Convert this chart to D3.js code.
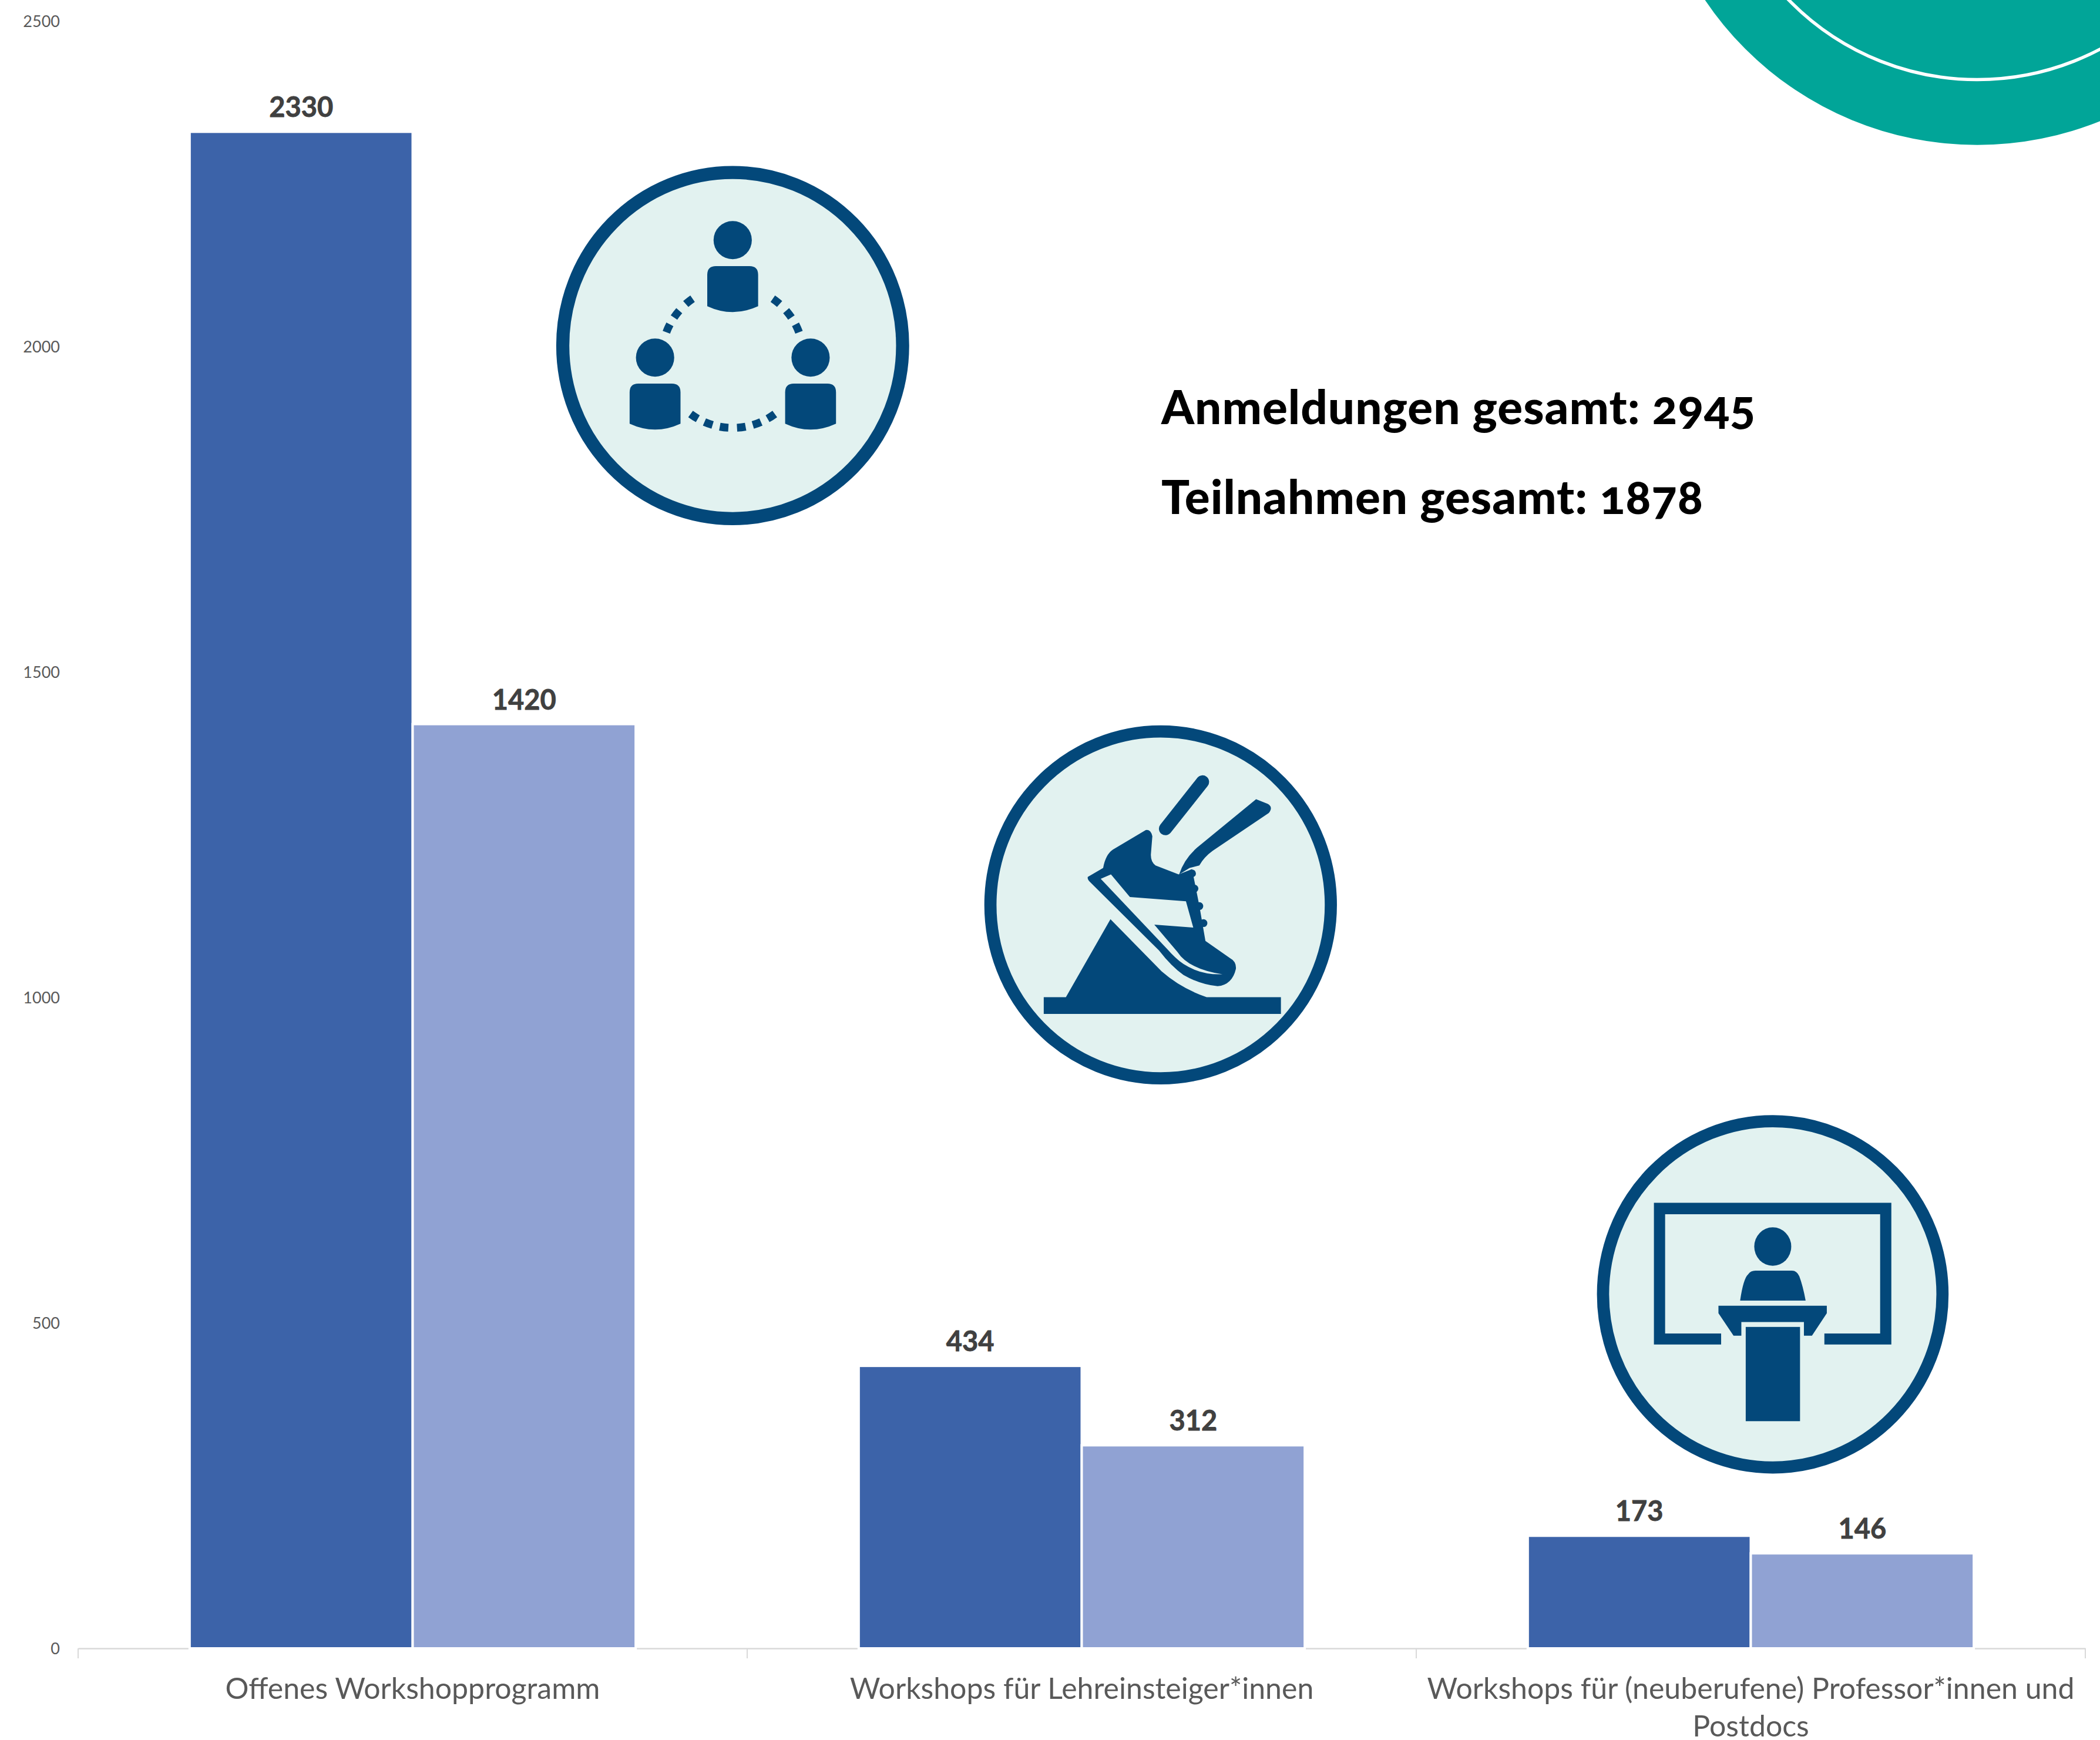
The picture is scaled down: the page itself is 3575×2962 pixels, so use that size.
<!DOCTYPE html>
<html>
<head>
<meta charset="utf-8">
<script src="https://cdn.jsdelivr.net/npm/d3@7"></script>
<style>
  html, body { margin: 0; padding: 0; background: #fff; }
  svg { display: block; }
  text { font-family: Lato, "Noto Sans", sans-serif; }
</style>
</head>
<body>
<div id="chart"></div>
<script>
var categories = ["Offenes Workshopprogramm", "Workshops für Lehreinsteiger*innen", "Workshops für (neuberufene) Professor*innen und Postdocs"];
var seriesNames = ["Anmeldungen", "Teilnahmen"];
var anmeldungen = [2330, 434, 173];
var teilnahmen = [1420, 312, 146];
var yTicks = [0, 500, 1000, 1500, 2000, 2500];
var totals = ["Anmeldungen gesamt: 2945", "Teilnahmen gesamt: 1878"];

var width = 3575,
    height = 2962;

var margin = { top: 36, right: 25, bottom: 156, left: 133 };

var darkBlue = "#3c63a9",
    lightBlue = "#90a2d3",
    iconDark = "#03487a",
    iconLight = "#e2f2f0",
    teal = "#01a598";

var svg = d3.select("#chart").append("svg")
    .attr("width", width)
    .attr("height", height)
    .style("background", "#fff");

// teal corner
svg.append("circle")
    .attr("cx", 3366).attr("cy", -312).attr("r", 558.7)
    .attr("fill", teal);
svg.append("circle")
    .attr("cx", 3366).attr("cy", -312).attr("r", 447.5)
    .attr("fill", "none")
    .attr("stroke", "#fff")
    .attr("stroke-width", 5.5);

var x = d3.scaleBand()
    .domain(categories)
    .range([margin.left, width - margin.right]);

var xSeries = d3.scaleBand()
    .domain(seriesNames)
    .range([0, x.bandwidth()])
    .paddingOuter(0.5)
    .paddingInner(0);

var y = d3.scaleLinear()
    .domain([0, 2500])
    .range([height - margin.bottom, margin.top]);

var rows = categories.map((c, i) => ({ category: c, values: [anmeldungen[i], teilnahmen[i]] }));

var xAxis = d3.axisBottom(x).tickSize(0).tickSizeOuter(0);
var yAxis = d3.axisLeft(y).tickValues(yTicks).tickSize(0).tickFormat(d3.format("d"));

svg.append("g")
    .attr("class", "y axis")
    .attr("transform", "translate(" + (margin.left - 31) + ",0)")
    .call(yAxis)
    .call(g => g.select(".domain").remove())
    .call(g => g.selectAll("text")
      .attr("x", 0)
      .attr("dy", "0.35em")
      .attr("font-size", 27)
      .attr("font-family", "Lato")
      .attr("fill", "#595959"));

var xAxisG = svg.append("g")
    .attr("class", "x axis")
    .attr("transform", "translate(0," + (height - margin.bottom) + ")")
    .call(xAxis)
    .call(g => g.select(".domain").attr("stroke", "#d9d9d9").attr("stroke-width", 2.5))
    .call(g => g.selectAll("text")
      .attr("y", 86)
      .attr("dy", 0)
      .attr("font-size", 50)
      .attr("font-family", "Lato")
      .attr("fill", "#595959")
      .call(wrap, x.bandwidth() - 10));

// ticks sit between the categories, not under them
xAxisG.selectAll("line.sep")
    .data(d3.range(categories.length + 1))
    .join("line")
      .attr("class", "sep")
      .attr("x1", d => margin.left + d * x.step())
      .attr("x2", d => margin.left + d * x.step())
      .attr("y1", 0)
      .attr("y2", 17)
      .attr("stroke", "#d9d9d9")
      .attr("stroke-width", 2);

var groups = svg.append("g")
    .selectAll("g")
    .data(rows)
    .join("g")
      .attr("transform", d => "translate(" + x(d.category) + ",0)");

groups.selectAll("rect")
    .data(d => d.values)
    .join("rect")
      .attr("x", (d, i) => xSeries(seriesNames[i]))
      .attr("y", d => y(d))
      .attr("width", xSeries.bandwidth())
      .attr("height", d => y(0) - y(d))
      .attr("fill", (d, i) => i == 0 ? darkBlue : lightBlue)
      .attr("stroke", "#fff")
      .attr("stroke-width", 4);

groups.selectAll("text")
    .data(d => d.values)
    .join("text")
      .attr("x", (d, i) => xSeries(seriesNames[i]) + xSeries.bandwidth() / 2)
      .attr("y", d => y(d) - 25)
      .attr("text-anchor", "middle")
      .attr("font-size", 47)
      .attr("font-weight", 700)
      .attr("fill", "#404040")
      .attr("stroke", "#404040")
      .attr("stroke-width", 0.8)
      .text(d => d);

svg.selectAll("text.total")
    .data(totals)
    .join("text")
      .attr("class", "total")
      .attr("x", 1977)
      .attr("y", (d, i) => 722 + i * 153)
      .attr("font-size", 80)
      .attr("font-weight", 900)
      .attr("letter-spacing", 1)
      .attr("fill", "#000")
      .style("font-variant-numeric", "oldstyle-nums")
      .text(d => d);

// icons, traced in the coordinates of a 1568 wide crop
function icon(cropX, cropY, cropW) {
  return svg.append("g")
    .attr("transform", "translate(" + cropX + "," + cropY + ") scale(" + (cropW / 1568) + ")")
    .attr("fill", iconDark);
}

function ring(g, cx, cy, rx, ry) {
  g.append("ellipse")
    .attr("cx", cx).attr("cy", cy).attr("rx", rx).attr("ry", ry)
    .attr("fill", iconLight)
    .attr("stroke", iconDark)
    .attr("stroke-width", 50);
}

// people in a circle
var people = icon(900, 240, 700);
ring(people, 778, 780, 648, 660);
[[0, 0], [-296, 448], [297, 448]].forEach(o => {
  var p = people.append("g").attr("transform", "translate(" + o[0] + "," + o[1] + ")");
  p.append("circle").attr("cx", 778).attr("cy", 378).attr("r", 73);
  p.append("path").attr("d", "M681 510Q681 477 714 477H842Q875 477 875 510V630Q778 675 681 630Z");
});
var dashArc = d3.arc().innerRadius(255).outerRadius(285);
[-38, -52.5, -66, 38, 52.5, 66, 147, 160, 173, 187, 200, 213].forEach(a => {
  people.append("path")
    .attr("transform", "translate(778,824)")
    .attr("d", dashArc({ startAngle: (a - 3.5) * Math.PI / 180, endAngle: (a + 3.5) * Math.PI / 180 }));
});

// shoe on a ramp
var shoe = icon(1650, 1210, 650);
ring(shoe, 786, 797, 699, 712);
shoe.append("path").attr("d", "M306 1176H397L580 856L790 1070Q870 1140 975 1176H1280V1245H306Z");
shoe.append("path").attr("d", "M487 682Q484 690 495 702L780 985Q830 1050 880 1085Q950 1125 1020 1131Q1080 1125 1095 1060Q1098 1030 1070 1015L970 945L945 800L925 700L915 650L860 672L765 635Q745 620 746 590L752 515Q745 485 725 490L590 570Q560 590 550 645Z");
shoe.append("path").attr("fill", iconLight).attr("d", "M540 690L582 672L660 765L890 782L920 890L760 878L855 990Q900 1060 1040 1082Q950 1085 880 1040Q850 1020 810 975Z");
[[925, 730], [945, 802], [962, 872], [915, 668]].forEach(c => {
  shoe.append("circle").attr("cx", c[0]).attr("cy", c[1]).attr("r", 16);
});
shoe.append("path").attr("d", "M1178 363L1225 382Q1250 395 1230 420L1000 575Q965 600 945 635L905 645L862 672Q885 600 950 550Z");
shoe.append("line")
    .attr("x1", 958).attr("y1", 292).attr("x2", 806).attr("y2", 484)
    .attr("stroke", iconDark)
    .attr("stroke-width", 54)
    .attr("stroke-linecap", "round");

// speaker at a lectern
var lectern = icon(2690, 1870, 650);
ring(lectern, 791, 804, 697, 711);
lectern.append("path").attr("d", "M303 428H1278V1010H1003V965H1232V475H349V965H579V1010H303Z");
lectern.append("ellipse").attr("cx", 791).attr("cy", 608).attr("rx", 76).attr("ry", 79);
lectern.append("path").attr("d", "M657 830Q670 740 690 722Q700 707 720 707H870Q890 707 900 730Q915 770 926 830Z");
lectern.append("path").attr("d", "M568 851H1013V882L952 974H919V918H662V974H630L568 882Z");
lectern.append("rect").attr("x", 680).attr("y", 938).attr("width", 223).attr("height", 387);

function wrap(text, maxWidth) {
  text.each(function() {
    var t = d3.select(this),
        words = t.text().split(" "),
        yPos = t.attr("y"),
        line = [],
        lineNo = 0,
        tspan = t.text(null).append("tspan").attr("x", 0).attr("y", yPos);
    words.forEach(w => {
      line.push(w);
      tspan.text(line.join(" "));
      if (tspan.node().getComputedTextLength() > maxWidth && line.length > 1) {
        line.pop();
        tspan.text(line.join(" "));
        line = [w];
        lineNo++;
        tspan = t.append("tspan").attr("x", 0).attr("y", +yPos + lineNo * 64).text(w);
      }
    });
  });
}
</script>
</body>
</html>
